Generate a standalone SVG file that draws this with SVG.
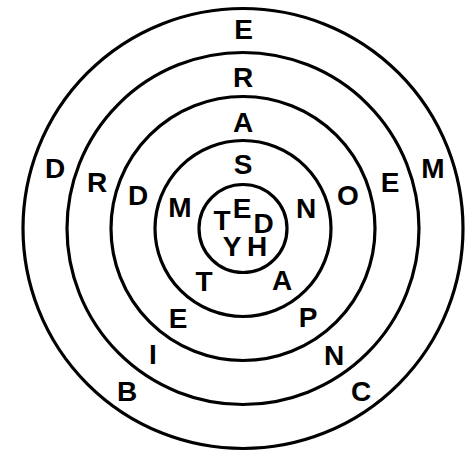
<svg xmlns="http://www.w3.org/2000/svg" width="476" height="451" viewBox="0 0 476 451">
<style>
.ring{fill:none;stroke:#000;stroke-width:3.2}
text{font-family:"Liberation Sans",Arial,sans-serif;font-weight:bold;font-size:28px;text-anchor:middle;fill:#000}
</style>
<rect width="476" height="451" fill="#fff"/>
<g id="rings">
<circle class="ring" cx="243" cy="228.5" r="220"/>
<circle class="ring" cx="243" cy="228.5" r="176"/>
<circle class="ring" cx="243" cy="228.5" r="132"/>
<circle class="ring" cx="243" cy="228.5" r="88"/>
<circle class="ring" cx="243" cy="228.5" r="44"/>
</g>
<g id="ring1">
<text x="243.5" y="39">E</text>
<text x="433" y="178">M</text>
<text x="361" y="401">C</text>
<text x="127" y="401">B</text>
<text x="55" y="178">D</text>
</g>
<g id="ring2">
<text x="243" y="87">R</text>
<text x="390" y="192">E</text>
<text x="334" y="365">N</text>
<text x="153" y="364">I</text>
<text x="97" y="192">R</text>
</g>
<g id="ring3">
<text x="243" y="132">A</text>
<text x="348" y="205">O</text>
<text x="308" y="327">P</text>
<text x="178" y="328">E</text>
<text x="138" y="205">D</text>
</g>
<g id="ring4">
<text x="243" y="174">S</text>
<text x="306" y="218">N</text>
<text x="282" y="290">A</text>
<text x="204" y="291">T</text>
<text x="180" y="217">M</text>
</g>
<g id="core">
<text x="242" y="217.5">E</text>
<text x="222" y="229.5">T</text>
<text x="263.5" y="232.5">D</text>
<text x="232" y="256">Y</text>
<text x="257" y="256">H</text>
</g>
</svg>
